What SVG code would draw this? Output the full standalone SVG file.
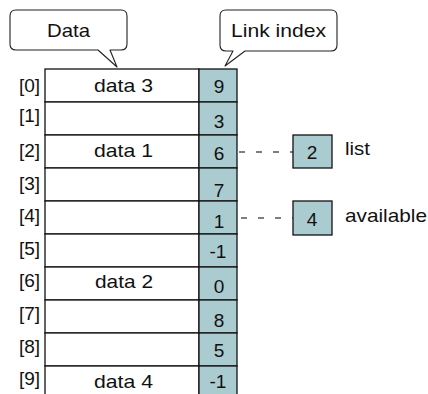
<svg xmlns="http://www.w3.org/2000/svg" width="428" height="394" viewBox="0 0 428 394">
<style>
text{font-family:"Liberation Sans",Arial,sans-serif;font-size:19px;fill:#111}
.lbl{text-anchor:end}
.mid{text-anchor:middle}
.cell{fill:#fff;stroke:#111;stroke-width:1.3}
.idx{fill:#aacbcf;stroke:#111;stroke-width:1.3}
.call{fill:#fff;stroke:#222;stroke-width:1.1;stroke-linejoin:round}
.dash{stroke:#555;stroke-width:1.3;stroke-dasharray:6 11;fill:none}
</style>
<rect width="428" height="394" fill="#fff"/>
<g id="callout-data">
<path class="call" d="M16,10 H121 Q127,10 127,16 V44 Q127,50 121,50 H110 L117,67 L98,50 H16 Q10,50 10,44 V16 Q10,10 16,10 Z"/>
<text x="47" y="37" textLength="43" lengthAdjust="spacingAndGlyphs">Data</text>
</g>
<g id="callout-link">
<path class="call" d="M226,10 H331 Q337,10 337,16 V45 Q337,51 331,51 H245 L225,66 L233,51 H226 Q220,51 220,45 V16 Q220,10 226,10 Z"/>
<text x="231" y="37" textLength="95" lengthAdjust="spacingAndGlyphs">Link index</text>
</g>
<g id="row0"><rect class="cell" x="45" y="69" width="154" height="33"/><rect class="idx" x="199" y="69" width="38" height="33"/><text class="lbl" x="40" y="92">[0]</text><text x="94" y="92" textLength="59" lengthAdjust="spacingAndGlyphs">data 3</text><text class="mid" x="219" y="93">9</text></g>
<g id="row1"><rect class="cell" x="45" y="102" width="154" height="33"/><rect class="idx" x="199" y="102" width="38" height="33"/><text class="lbl" x="40" y="122">[1]</text><text class="mid" x="219" y="128">3</text></g>
<g id="row2"><rect class="cell" x="45" y="135" width="154" height="33"/><rect class="idx" x="199" y="135" width="38" height="33"/><text class="lbl" x="40" y="157">[2]</text><text x="94" y="157" textLength="59" lengthAdjust="spacingAndGlyphs">data 1</text><text class="mid" x="219" y="160">6</text></g>
<g id="row3"><rect class="cell" x="45" y="168" width="154" height="33"/><rect class="idx" x="199" y="168" width="38" height="33"/><text class="lbl" x="40" y="190">[3]</text><text class="mid" x="219" y="197">7</text></g>
<g id="row4"><rect class="cell" x="45" y="201" width="154" height="33"/><rect class="idx" x="199" y="201" width="38" height="33"/><text class="lbl" x="40" y="222">[4]</text><text class="mid" x="219" y="228">1</text></g>
<g id="row5"><rect class="cell" x="45" y="234" width="154" height="33"/><rect class="idx" x="199" y="234" width="38" height="33"/><text class="lbl" x="40" y="255">[5]</text><text class="mid" x="218" y="258">-1</text></g>
<g id="row6"><rect class="cell" x="45" y="267" width="154" height="33"/><rect class="idx" x="199" y="267" width="38" height="33"/><text class="lbl" x="40" y="287">[6]</text><text x="95" y="288" textLength="58" lengthAdjust="spacingAndGlyphs">data 2</text><text class="mid" x="219" y="293">0</text></g>
<g id="row7"><rect class="cell" x="45" y="300" width="154" height="33"/><rect class="idx" x="199" y="300" width="38" height="33"/><text class="lbl" x="40" y="320">[7]</text><text class="mid" x="219" y="327">8</text></g>
<g id="row8"><rect class="cell" x="45" y="333" width="154" height="33"/><rect class="idx" x="199" y="333" width="38" height="33"/><text class="lbl" x="40" y="353">[8]</text><text class="mid" x="219" y="357">5</text></g>
<g id="row9"><rect class="cell" x="45" y="366" width="154" height="40"/><rect class="idx" x="199" y="366" width="38" height="40"/><text class="lbl" x="40" y="385">[9]</text><text x="94" y="388" textLength="59" lengthAdjust="spacingAndGlyphs">data 4</text><text class="mid" x="218" y="388">-1</text></g>
<g id="connectors">
<line class="dash" x1="239" y1="152" x2="293" y2="152"/>
<line class="dash" x1="241" y1="218" x2="293" y2="218"/>
</g>
<g id="list"><rect class="idx" x="293" y="135" width="39" height="33"/><text class="mid" x="312" y="159">2</text><text x="345" y="155" textLength="25" lengthAdjust="spacingAndGlyphs">list</text></g>
<g id="available"><rect class="idx" x="293" y="201" width="39" height="34"/><text class="mid" x="312" y="226">4</text><text x="345" y="222" textLength="82" lengthAdjust="spacingAndGlyphs">available</text></g>
</svg>
